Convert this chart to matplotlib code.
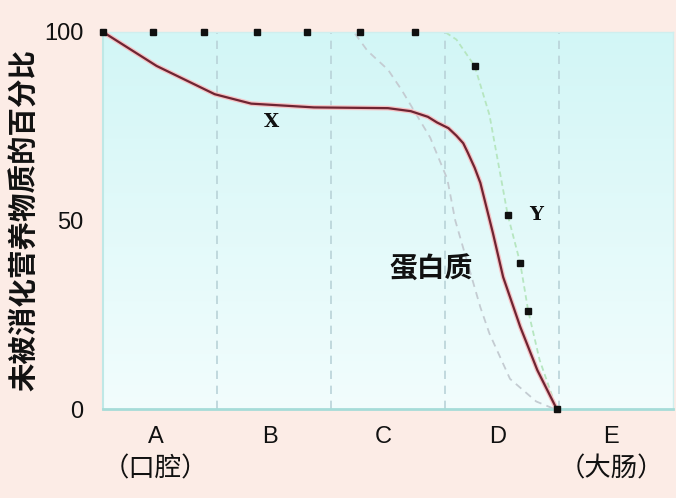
import numpy as np
import matplotlib
matplotlib.use("Agg")
import matplotlib.pyplot as plt
from matplotlib.colors import LinearSegmentedColormap

plt.rcParams['font.family'] = ['Liberation Sans', 'Noto Sans CJK SC', 'DejaVu Sans']

# ---- data ----
regions = ['A', 'B', 'C', 'D', 'E']
region_notes = {'A': '（口腔）', 'E': '（大肠）'}
y_ticks = [0, 50, 100]
y_label = '未被消化营养物质的百分比'

x_curve_x = [0, 0.47, 0.98, 1.3, 1.85, 2.5, 2.7, 2.85, 2.93, 3.03, 3.1, 3.16, 3.2, 3.26, 3.31, 3.42, 3.51, 3.66, 3.81, 3.98]
x_curve_v = [100, 91, 83.5, 81, 80, 79.8, 79, 77.5, 76, 74.5, 72.5, 70.5, 68, 64, 60, 46.7, 35, 21.8, 10.3, 0]

y_curve_x = [0, 3.0, 3.1, 3.26, 3.39, 3.55, 3.66, 3.73, 3.83, 3.98]
y_curve_v = [100, 100, 98, 91, 78, 51.5, 38.7, 26, 13, 0]
y_mark_x = [0, 0.44, 0.89, 1.35, 1.79, 2.25, 2.74, 3.26, 3.55, 3.66, 3.73, 3.98]
y_mark_v = [100, 100, 100, 100, 100, 100, 100, 91, 51.5, 38.7, 26, 0]

p_curve_x = [0, 2.2, 2.32, 2.5, 2.62, 2.87, 3.02, 3.09, 3.31, 3.39, 3.57, 3.8, 3.96]
p_curve_v = [100, 100, 95, 90, 84.6, 72, 61, 50, 27, 20, 8, 2, 0]

# ---- figure ----
fig = plt.figure(figsize=(6.76, 4.98), dpi=100, facecolor='#fcece6')
ax = fig.add_axes([103/676, 1-409/498, 570/676, 377/498])
ax.set_xlim(0, len(regions))
ax.set_ylim(0, 100)

# gradient background
cmap = LinearSegmentedColormap.from_list('bg', ['#f2fdfd', '#d2f6f6'])
grad = np.linspace(0, 1, 256).reshape(-1, 1)
ax.imshow(grad, aspect='auto', cmap=cmap, origin='lower',
          extent=[0, len(regions), 0, 100], zorder=0)

# region dividers
for i in range(1, len(regions)):
    ax.axvline(i, color='#b9d3d8', lw=1.2, ls=(0, (5, 4)), zorder=1)

# protein curve
ax.plot(p_curve_x, p_curve_v, color='#c4ccd2', lw=1.3, ls=(0, (4, 3)), zorder=2)
# Y curve
ax.plot(y_curve_x, y_curve_v, color='#b6e6c0', lw=1.3, ls=(0, (3, 2)), zorder=2)
ax.plot(y_mark_x, y_mark_v, ls='none', marker='s', ms=4, color='#101010', zorder=4,
        clip_on=False)
# X curve
ax.plot(x_curve_x, x_curve_v, color='#f6c2c4', lw=3.4, zorder=3, solid_capstyle='round',
        solid_joinstyle='round')
ax.plot(x_curve_x, x_curve_v, color='#6e2432', lw=1.6, zorder=3, solid_joinstyle='round')

# curve labels
ax.text(1.48, 76, 'X', fontsize=14, ha='center', va='center', color='#111',
        family='DejaVu Serif', weight='bold')
ax.text(3.8, 51.5, 'Y', fontsize=14, ha='center', va='center', color='#111',
        family='DejaVu Serif', weight='bold')
ax.text(2.88, 37, '蛋白质', fontsize=20, ha='center', va='center', color='#111',
        family=['Noto Sans CJK SC'], weight='bold')

# axes styling
for s in ['top', 'right']:
    ax.spines[s].set_color('#cfeeee')
    ax.spines[s].set_linewidth(1)
ax.spines['left'].set_color('#bfe8e6')
ax.spines['left'].set_linewidth(1.5)
ax.spines['bottom'].set_color('#a6dcd8')
ax.spines['bottom'].set_linewidth(2)

ax.set_yticks(y_ticks)
ax.set_yticklabels([str(v) for v in y_ticks], fontsize=17, color='#111')
ax.tick_params(axis='y', length=0, pad=14)

ax.set_xticks([i + 0.46 for i in range(len(regions))])
ax.set_xticklabels(regions, fontsize=17, color='#111')
ax.tick_params(axis='x', length=0, pad=12)

for i, r in enumerate(regions):
    if r in region_notes:
        ax.text(i + 0.46, -16, region_notes[r], fontsize=19, ha='center', va='center',
                family=['Noto Sans CJK SC'], color='#111')

fig.text(25/676, 1-220/498, y_label, rotation=90, fontsize=20.5, ha='center', va='center',
         family=['Noto Sans CJK SC'], weight='bold', color='#111')

fig.savefig('out.png', dpi=100, facecolor=fig.get_facecolor())
